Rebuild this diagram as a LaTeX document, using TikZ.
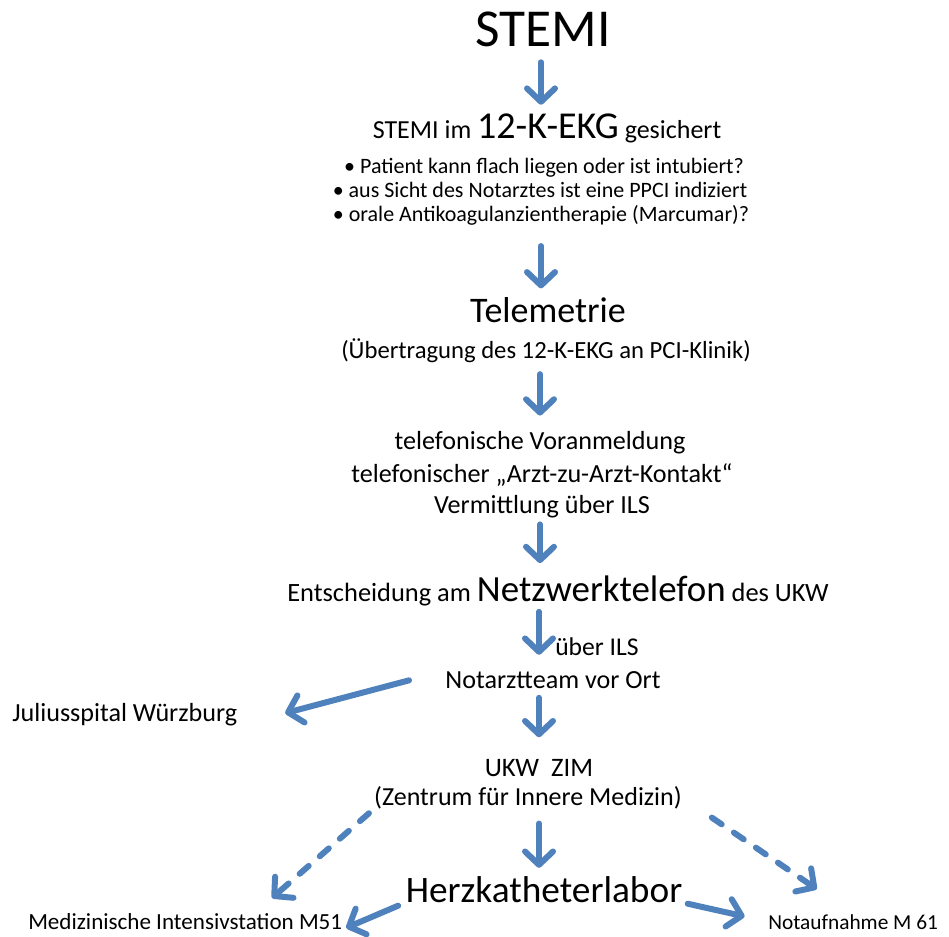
\documentclass[tikz,border=0pt]{standalone}
\usepackage{fontspec}
\setmainfont{Carlito}
\usetikzlibrary{arrows.meta}
\definecolor{office blue}{RGB}{79,129,189}
\newcommand{\schrift}[1]{\fontsize{#1}{#1}\selectfont}

\begin{document}
\begin{tikzpicture}[x=0.75pt,y=-0.75pt,
		txt/.style={inner sep=0pt, anchor=base},
		pfeil/.style={draw=office blue, line width=4.5pt, line cap=round,
			-{Straight Barb[length=10pt,width=21pt,round]}},
		pfeil gestrichelt/.style={pfeil, dash pattern=on 9pt off 11pt}]
		\useasboundingbox (0,0) rectangle (949,937);
		% main column
		\node[txt, font=\schrift{40}] (stemi) at (543,47) {STEMI};
		\node[txt, font=\schrift{19.5}] (ekg) at (547,139) {STEMI im {\schrift{28.5}12-K-EKG} gesichert};
		\node[txt, font=\schrift{16.5}] (punktA) at (544,174) {• Patient kann flach liegen oder ist intubiert?};
		\node[txt, font=\schrift{16.5}] (punktB) at (540,198) {• aus Sicht des Notarztes ist eine PPCI indiziert};
		\node[txt, font=\schrift{16.5}] (punktC) at (541,222) {• orale Antikoagulanzientherapie (Marcumar)?};
		\node[txt, font=\schrift{27}] (tele) at (548,323) {Telemetrie};
		\node[txt, font=\schrift{18.5}] (uebertr) at (546,359) {(Übertragung des 12-K-EKG an PCI-Klinik)};
		\node[txt, font=\schrift{19.6}] (telA) at (540,450) {telefonische Voranmeldung};
		\node[txt, font=\schrift{19.6}] (telB) at (542,482) {telefonischer „Arzt-zu-Arzt-Kontakt“};
		\node[txt, font=\schrift{19.6}] (telC) at (542,513) {Vermittlung über ILS};
		\node[txt, font=\schrift{19.8}] (entsch) at (558,601) {Entscheidung am {\schrift{27.7}Netzwerktelefon} des UKW};
		\node[txt, font=\schrift{19.2}, anchor=base west] (ils) at (555,655) {über ILS};
		\node[txt, font=\schrift{19.6}] (notarzt) at (553,688) {Notarztteam vor Ort};
		\node[txt, font=\schrift{19.6}, anchor=base west] (julius) at (12,721) {Juliusspital Würzburg};
		\node[txt, font=\schrift{20}] (ukw) at (539,776) {UKW\ \ ZIM};
		\node[txt, font=\schrift{19.5}] (zim) at (528,805) {(Zentrum für Innere Medizin)};
		\node[txt, font=\schrift{28}] (herz) at (544,902) {Herzkatheterlabor};
		\node[txt, font=\schrift{17.3}, anchor=base west] (its) at (28,929) {Medizinische Intensivstation M51};
		\node[txt, font=\schrift{16}, anchor=base west] (zna) at (768,929) {Notaufnahme M 61};
		\coordinate (itsziel) at (272,898);
		% arrows
		\draw[pfeil, shorten <=11pt, shorten >=7pt] (punktC.south |- stemi.south) -- (punktC.south |- ekg.north);
		\draw[pfeil, shorten <=15pt, shorten >=7pt] (punktC.south) -- (punktC.south |- tele.north);
		\draw[pfeil, shorten <=8pt, shorten >=12pt] (telA.south |- uebertr.south) -- (telA.north);
		\draw[pfeil, shorten <=5pt, shorten >=9pt] (telA.south |- telC.south) -- (telA.south |- entsch.north);
		\draw[pfeil, shorten <=4.5pt, shorten >=12pt] (ukw.south |- entsch.south) -- (ukw.south |- notarzt.north);
		\draw[pfeil, shorten <=28pt, shorten >=37pt] (notarzt.north west) -- (julius.south east);
		\draw[pfeil, shorten <=7pt, shorten >=16pt] (ukw.south |- notarzt.south) -- (ukw.north);
		\draw[pfeil, shorten <=11pt, shorten >=6pt] (ukw.south |- zim.south) -- (ukw.south |- herz.north);
		\draw[pfeil gestrichelt, shorten <=5pt] (zim.south west) -- (itsziel);
		\draw[pfeil gestrichelt, shorten <=27pt, shorten >=33pt] (zim.east) -- (zna.north);
		\draw[pfeil, shorten <=6pt, shorten >=3pt] (herz.south west) -- (its.south east);
		\draw[pfeil, shorten <=4pt, shorten >=18pt] (herz.south east) -- (zna.west);
	\end{tikzpicture}
\end{document}
